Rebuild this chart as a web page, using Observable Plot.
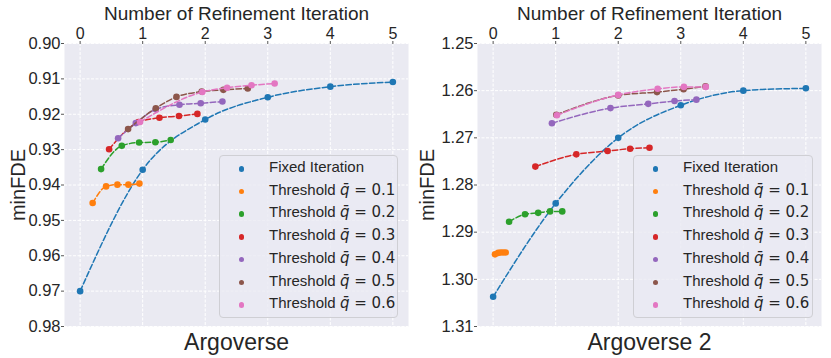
<!DOCTYPE html>
<html>
<head>
<meta charset="utf-8">
<script src="https://cdn.jsdelivr.net/npm/d3@7"></script>
<script src="https://cdn.jsdelivr.net/npm/@observablehq/plot@0.6"></script>
<style>
  html, body { margin: 0; padding: 0; background: white; }
  #wrap { position: relative; width: 831px; height: 358px; overflow: hidden; font-family: "Liberation Sans", Arial, sans-serif; color: #262626; }
  .panel { position: absolute; top: 0; }
  .legend { position: absolute; box-sizing: border-box; border: 1px solid #cfcfd4; border-radius: 4px; background: rgba(234,234,242,0.8); }
  .row { position: absolute; left: 0; right: 0; height: 22.7px; line-height: 22.7px; font-size: 15px; white-space: nowrap; }
  .dot { position: absolute; width: 5.5px; height: 5.5px; border-radius: 50%; }
  .txt { position: absolute; }
  .m { font-family: "DejaVu Sans", sans-serif; }
</style>
</head>
<body>
<div id="wrap"></div>
<script>
// ---------- shared labels / categories ----------
const seriesNames = ["Fixed Iteration", "Threshold q̄ = 0.1", "Threshold q̄ = 0.2", "Threshold q̄ = 0.3", "Threshold q̄ = 0.4", "Threshold q̄ = 0.5", "Threshold q̄ = 0.6"];
const qLabels = [null, "0.1", "0.2", "0.3", "0.4", "0.5", "0.6"];
const seriesColors = ["#1f77b4", "#ff7f0e", "#2ca02c", "#d62728", "#9467bd", "#8c564b", "#e377c2"];
const xTicks = [0, 1, 2, 3, 4, 5];
const xLabel = "Number of Refinement Iteration";
const yLabel = "minFDE";

// ---------- Argoverse ----------
const argoTitle = "Argoverse";
const argoYTicks = [0.90, 0.91, 0.92, 0.93, 0.94, 0.95, 0.96, 0.97, 0.98];
const argoFixedX = [0, 1, 2, 3, 4, 5];
const argoFixedY = [0.9700, 0.9357, 0.9215, 0.9152, 0.9122, 0.9109];
const argoQ1X = [0.20, 0.415, 0.596, 0.772, 0.948];
const argoQ1Y = [0.9451, 0.9404, 0.9399, 0.9399, 0.9396];
const argoQ2X = [0.335, 0.666, 0.943, 1.203, 1.448];
const argoQ2Y = [0.9355, 0.9289, 0.9280, 0.9279, 0.9273];
const argoQ3X = [0.463, 0.933, 1.268, 1.58, 1.875];
const argoQ3Y = [0.9299, 0.9222, 0.9210, 0.9205, 0.9199];
const argoQ4X = [0.607, 0.89, 1.209, 1.588, 1.928, 2.275];
const argoQ4Y = [0.9268, 0.9225, 0.9186, 0.9173, 0.9169, 0.9164];
const argoQ5X = [0.767, 1.21, 1.54, 1.944, 2.29, 2.68];
const argoQ5Y = [0.9242, 0.9183, 0.9151, 0.9136, 0.9131, 0.9127];
const argoQ6X = [0.958, 1.954, 2.35, 2.74, 3.11];
const argoQ6Y = [0.9222, 0.9137, 0.9125, 0.9118, 0.9113];

// ---------- Argoverse 2 ----------
const av2Title = "Argoverse 2";
const av2YTicks = [1.25, 1.26, 1.27, 1.28, 1.29, 1.30, 1.31];
const av2FixedX = [0, 1, 2, 3, 4, 5];
const av2FixedY = [1.3037, 1.2839, 1.2700, 1.2631, 1.2600, 1.2595];
const av2Q1X = [0.03, 0.08, 0.12, 0.16, 0.20];
const av2Q1Y = [1.2947, 1.2944, 1.2943, 1.2943, 1.2943];
const av2Q2X = [0.255, 0.51, 0.72, 0.91, 1.105];
const av2Q2Y = [1.2878, 1.2862, 1.2859, 1.2856, 1.2856];
const av2Q3X = [0.675, 1.33, 1.83, 2.19, 2.50];
const av2Q3Y = [1.2761, 1.2735, 1.2728, 1.2723, 1.2721];
const av2Q4X = [0.94, 1.876, 2.48, 2.90, 3.25];
const av2Q4Y = [1.2669, 1.2637, 1.2628, 1.2622, 1.2619];
const av2Q5X = [1.01, 2.00, 2.62, 3.045, 3.395];
const av2Q5Y = [1.2651, 1.2610, 1.2603, 1.2597, 1.2591];
const av2Q6X = [1.02, 2.00, 2.63, 3.05, 3.40];
const av2Q6Y = [1.2652, 1.2609, 1.2596, 1.2592, 1.2592];

function toRows(xs, ys, name) { return xs.map((x, i) => ({series: name, x, y: ys[i]})); }

function makePanel({width, marginLeft, marginRight, yDomain, yTicks, seriesXY, title, yLabelDx}) {
  const marks = [
    Plot.frame({fill: "#EAEAF2", stroke: null}),
    Plot.gridX(xTicks, {stroke: "white", strokeOpacity: 1, strokeWidth: 1, strokeDasharray: "3,1.5"}),
    Plot.gridY(yTicks, {stroke: "white", strokeOpacity: 1, strokeWidth: 1, strokeDasharray: "3,1.5"}),
    Plot.axisX(xTicks, {anchor: "top", tickSize: 3, tickPadding: 2, label: null, fontSize: 16, stroke: "#555"}),
    Plot.axisY(yTicks, {anchor: "left", tickSize: 3, tickPadding: 1, label: null, fontSize: 16.5, tickFormat: d3.format(".2f"), stroke: "#555"})
  ];
  seriesXY.forEach(([xs, ys], i) => {
    const rows = toRows(xs, ys, seriesNames[i]);
    marks.push(Plot.line(rows, {x: "x", y: "y", stroke: "series", strokeWidth: 1.5, strokeDasharray: "5.5,2.4", curve: "monotone-x"}));
    marks.push(Plot.dot(rows, {x: "x", y: "y", fill: "series", r: 3.3, stroke: "none"}));
  });
  marks.push(Plot.text([xLabel], {frameAnchor: "top", lineAnchor: "middle", textAnchor: "middle", dy: -29.5, fontSize: 19, fill: "#262626"}));
  marks.push(Plot.text([yLabel], {frameAnchor: "left", lineAnchor: "middle", textAnchor: "middle", rotate: -90, dx: yLabelDx, fontSize: 20, fill: "#262626"}));
  marks.push(Plot.text([title], {frameAnchor: "bottom", lineAnchor: "middle", textAnchor: "middle", dy: 16, fontSize: 23, fill: "#262626"}));
  return Plot.plot({
    width, height: 358,
    marginTop: 43, marginBottom: 32, marginLeft, marginRight,
    style: {fontFamily: "'Liberation Sans', Arial, sans-serif", background: "white", color: "#262626", overflow: "visible"},
    x: {domain: [-0.25, 5.25]},
    y: {domain: yDomain, reverse: true},
    color: {domain: seriesNames, range: seriesColors},
    marks
  });
}

function makeLegend(left, top, width, height) {
  const lg = document.createElement("div");
  lg.className = "legend";
  Object.assign(lg.style, {left: left + "px", top: top + "px", width: width + "px", height: height + "px"});
  seriesNames.forEach((name, i) => {
    const row = document.createElement("div");
    row.className = "row";
    row.style.top = (i * 22.7) + "px";
    const dot = document.createElement("div");
    dot.className = "dot";
    dot.style.background = seriesColors[i];
    dot.style.left = "18.5px";
    dot.style.top = "10px";
    row.appendChild(dot);
    const t = document.createElement("div");
    t.className = "txt";
    t.style.left = "49px";
    if (qLabels[i] === null) {
      t.textContent = name;
    } else {
      t.innerHTML = 'Threshold <span class="m"><i>q\u0304</i> = ' + qLabels[i] + '</span>';
    }
    row.appendChild(t);
    lg.appendChild(row);
  });
  return lg;
}

const wrap = document.getElementById("wrap");

const left = makePanel({
  width: 415, marginLeft: 64, marginRight: 7, yLabelDx: -46,
  yDomain: [0.90, 0.98], yTicks: argoYTicks, title: argoTitle,
  seriesXY: [[argoFixedX, argoFixedY], [argoQ1X, argoQ1Y], [argoQ2X, argoQ2Y], [argoQ3X, argoQ3Y], [argoQ4X, argoQ4Y], [argoQ5X, argoQ5Y], [argoQ6X, argoQ6Y]]
});
left.classList.add("panel");
left.style.left = "0px";
wrap.appendChild(left);

const right = makePanel({
  width: 416, marginLeft: 62, marginRight: 10, yLabelDx: -50,
  yDomain: [1.25, 1.31], yTicks: av2YTicks, title: av2Title,
  seriesXY: [[av2FixedX, av2FixedY], [av2Q1X, av2Q1Y], [av2Q2X, av2Q2Y], [av2Q3X, av2Q3Y], [av2Q4X, av2Q4Y], [av2Q5X, av2Q5Y], [av2Q6X, av2Q6Y]]
});
right.classList.add("panel");
right.style.left = "415px";
wrap.appendChild(right);

wrap.appendChild(makeLegend(219, 155, 179, 163));
wrap.appendChild(makeLegend(633, 155, 180, 163));
</script>
</body>
</html>
